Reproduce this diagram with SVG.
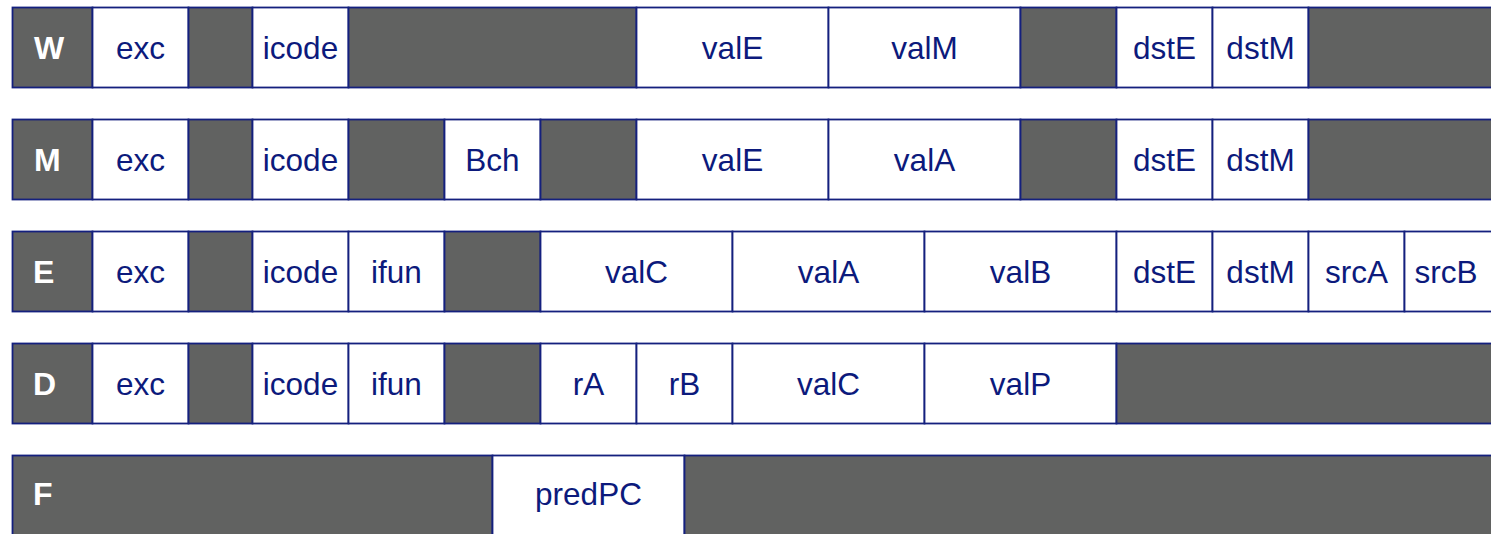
<svg xmlns="http://www.w3.org/2000/svg" width="1491" height="534" viewBox="0 0 1491 534">
<style>
.g{fill:#616261;stroke:#14207e;stroke-width:1.8}
.w{fill:#ffffff;stroke:#14207e;stroke-width:1.8}
.t{font-family:"Liberation Sans",Arial,sans-serif;font-size:31.5px;fill:#0c1a7c;text-anchor:middle}
.l{font-family:"Liberation Sans",Arial,sans-serif;font-size:32px;font-weight:bold;fill:#ffffff}
</style>
<rect x="0" y="0" width="1491" height="534" fill="#ffffff"/>
<g id="row-W">
 <g id="W-label"><rect class="g" x="12.5" y="7.5" width="80" height="80"/><text class="l" x="34" y="59">W</text></g>
 <g id="W-exc"><rect class="w" x="92.5" y="7.5" width="96" height="80"/><text class="t" x="140.5" y="58.5">exc</text></g>
 <g id="W-gap1"><rect class="g" x="188.5" y="7.5" width="64" height="80"/></g>
 <g id="W-icode"><rect class="w" x="252.5" y="7.5" width="96" height="80"/><text class="t" x="300.5" y="58.5">icode</text></g>
 <g id="W-gap2"><rect class="g" x="348.5" y="7.5" width="288" height="80"/></g>
 <g id="W-valE"><rect class="w" x="636.5" y="7.5" width="192" height="80"/><text class="t" x="732.5" y="58.5">valE</text></g>
 <g id="W-valM"><rect class="w" x="828.5" y="7.5" width="192" height="80"/><text class="t" x="924.5" y="58.5">valM</text></g>
 <g id="W-gap3"><rect class="g" x="1020.5" y="7.5" width="96" height="80"/></g>
 <g id="W-dstE"><rect class="w" x="1116.5" y="7.5" width="96" height="80"/><text class="t" x="1164.5" y="58.5">dstE</text></g>
 <g id="W-dstM"><rect class="w" x="1212.5" y="7.5" width="96" height="80"/><text class="t" x="1260.5" y="58.5">dstM</text></g>
 <g id="W-gap4"><rect class="g" x="1308.5" y="7.5" width="200" height="80"/></g>
</g>
<g id="row-M">
 <g id="M-label"><rect class="g" x="12.5" y="119.5" width="80" height="80"/><text class="l" x="34" y="171">M</text></g>
 <g id="M-exc"><rect class="w" x="92.5" y="119.5" width="96" height="80"/><text class="t" x="140.5" y="170.5">exc</text></g>
 <g id="M-gap1"><rect class="g" x="188.5" y="119.5" width="64" height="80"/></g>
 <g id="M-icode"><rect class="w" x="252.5" y="119.5" width="96" height="80"/><text class="t" x="300.5" y="170.5">icode</text></g>
 <g id="M-gap2"><rect class="g" x="348.5" y="119.5" width="96" height="80"/></g>
 <g id="M-Bch"><rect class="w" x="444.5" y="119.5" width="96" height="80"/><text class="t" x="492.5" y="170.5">Bch</text></g>
 <g id="M-gap3"><rect class="g" x="540.5" y="119.5" width="96" height="80"/></g>
 <g id="M-valE"><rect class="w" x="636.5" y="119.5" width="192" height="80"/><text class="t" x="732.5" y="170.5">valE</text></g>
 <g id="M-valA"><rect class="w" x="828.5" y="119.5" width="192" height="80"/><text class="t" x="924.5" y="170.5">valA</text></g>
 <g id="M-gap4"><rect class="g" x="1020.5" y="119.5" width="96" height="80"/></g>
 <g id="M-dstE"><rect class="w" x="1116.5" y="119.5" width="96" height="80"/><text class="t" x="1164.5" y="170.5">dstE</text></g>
 <g id="M-dstM"><rect class="w" x="1212.5" y="119.5" width="96" height="80"/><text class="t" x="1260.5" y="170.5">dstM</text></g>
 <g id="M-gap5"><rect class="g" x="1308.5" y="119.5" width="200" height="80"/></g>
</g>
<g id="row-E">
 <g id="E-label"><rect class="g" x="12.5" y="231.5" width="80" height="80"/><text class="l" x="33" y="283">E</text></g>
 <g id="E-exc"><rect class="w" x="92.5" y="231.5" width="96" height="80"/><text class="t" x="140.5" y="282.5">exc</text></g>
 <g id="E-gap1"><rect class="g" x="188.5" y="231.5" width="64" height="80"/></g>
 <g id="E-icode"><rect class="w" x="252.5" y="231.5" width="96" height="80"/><text class="t" x="300.5" y="282.5">icode</text></g>
 <g id="E-ifun"><rect class="w" x="348.5" y="231.5" width="96" height="80"/><text class="t" x="396.5" y="282.5">ifun</text></g>
 <g id="E-gap2"><rect class="g" x="444.5" y="231.5" width="96" height="80"/></g>
 <g id="E-valC"><rect class="w" x="540.5" y="231.5" width="192" height="80"/><text class="t" x="636.5" y="282.5">valC</text></g>
 <g id="E-valA"><rect class="w" x="732.5" y="231.5" width="192" height="80"/><text class="t" x="828.5" y="282.5">valA</text></g>
 <g id="E-valB"><rect class="w" x="924.5" y="231.5" width="192" height="80"/><text class="t" x="1020.5" y="282.5">valB</text></g>
 <g id="E-dstE"><rect class="w" x="1116.5" y="231.5" width="96" height="80"/><text class="t" x="1164.5" y="282.5">dstE</text></g>
 <g id="E-dstM"><rect class="w" x="1212.5" y="231.5" width="96" height="80"/><text class="t" x="1260.5" y="282.5">dstM</text></g>
 <g id="E-srcA"><rect class="w" x="1308.5" y="231.5" width="96" height="80"/><text class="t" x="1356.5" y="282.5">srcA</text></g>
 <g id="E-srcB"><rect class="w" x="1404.5" y="231.5" width="96" height="80"/><text class="t" x="1446" y="282.5">srcB</text></g>
</g>
<g id="row-D">
 <g id="D-label"><rect class="g" x="12.5" y="343.5" width="80" height="80"/><text class="l" x="33" y="395">D</text></g>
 <g id="D-exc"><rect class="w" x="92.5" y="343.5" width="96" height="80"/><text class="t" x="140.5" y="394.5">exc</text></g>
 <g id="D-gap1"><rect class="g" x="188.5" y="343.5" width="64" height="80"/></g>
 <g id="D-icode"><rect class="w" x="252.5" y="343.5" width="96" height="80"/><text class="t" x="300.5" y="394.5">icode</text></g>
 <g id="D-ifun"><rect class="w" x="348.5" y="343.5" width="96" height="80"/><text class="t" x="396.5" y="394.5">ifun</text></g>
 <g id="D-gap2"><rect class="g" x="444.5" y="343.5" width="96" height="80"/></g>
 <g id="D-rA"><rect class="w" x="540.5" y="343.5" width="96" height="80"/><text class="t" x="588.5" y="394.5">rA</text></g>
 <g id="D-rB"><rect class="w" x="636.5" y="343.5" width="96" height="80"/><text class="t" x="684.5" y="394.5">rB</text></g>
 <g id="D-valC"><rect class="w" x="732.5" y="343.5" width="192" height="80"/><text class="t" x="828.5" y="394.5">valC</text></g>
 <g id="D-valP"><rect class="w" x="924.5" y="343.5" width="192" height="80"/><text class="t" x="1020.5" y="394.5">valP</text></g>
 <g id="D-gap3"><rect class="g" x="1116.5" y="343.5" width="392" height="80"/></g>
</g>
<g id="row-F">
 <g id="F-label"><rect class="g" x="12.5" y="455.5" width="480" height="90"/><text class="l" x="33" y="505">F</text></g>
 <g id="F-predPC"><rect class="w" x="492.5" y="455.5" width="192" height="90"/><text class="t" x="588.5" y="504.5">predPC</text></g>
 <g id="F-gap"><rect class="g" x="684.5" y="455.5" width="824" height="90"/></g>
</g>
</svg>
